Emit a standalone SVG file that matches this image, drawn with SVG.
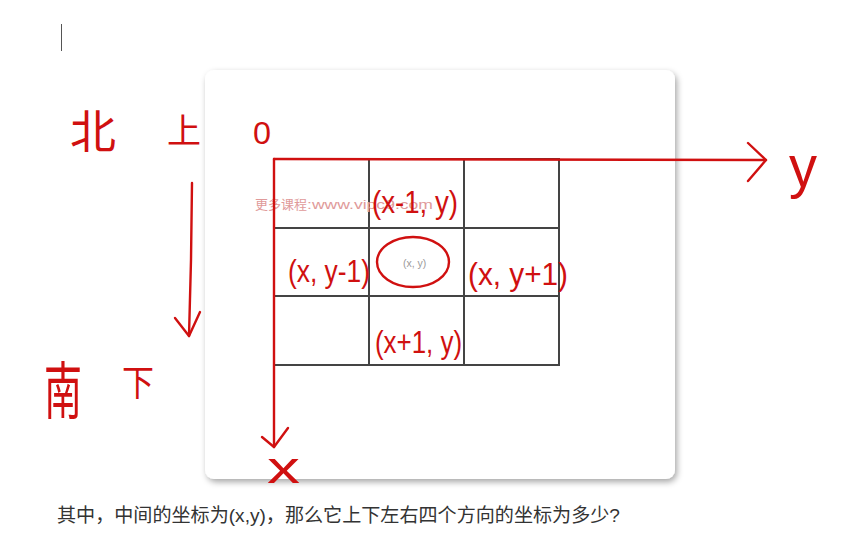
<svg xmlns="http://www.w3.org/2000/svg" width="861" height="536" viewBox="0 0 861 536">
  <style>
    .grid { fill: none; stroke: #444; stroke-width: 2; }
    .red { fill: none; stroke: #d01010; stroke-width: 2.4; stroke-linecap: round; stroke-linejoin: round; }
    .hand { fill: #d01010; font-family: "Liberation Sans", "DejaVu Sans", sans-serif; font-weight: normal; }
    .handcjk { fill: #d01010; font-family: "Noto Sans CJK SC", sans-serif; font-weight: normal; }
    .wm { fill: #e09a9a; font-family: "Liberation Sans", "Noto Sans CJK SC", sans-serif; font-size: 13px; }
    .small { fill: #9a9a9a; font-family: "Liberation Sans", sans-serif; font-size: 10.5px; }
    .body { fill: #333; font-family: "Liberation Sans", "Noto Sans CJK SC", sans-serif; font-size: 19px; }
  </style>
  <defs>
    <filter id="shadow" x="-5%" y="-5%" width="112%" height="112%">
      <feDropShadow dx="2" dy="3" stdDeviation="3" flood-color="#000" flood-opacity="0.35"/>
    </filter>
  </defs>
  <rect x="0" y="0" width="861" height="536" fill="#fff"/>
  <line x1="61.5" y1="24" x2="61.5" y2="51" stroke="#555" stroke-width="1"/>

  <g id="card">
    <rect x="205" y="70" width="470" height="409" rx="9" fill="#fff" filter="url(#shadow)"/>
  </g>

  <g id="grid">
    <rect class="grid" x="274" y="159" width="285" height="206"/>
    <line class="grid" x1="369" y1="159" x2="369" y2="365"/>
    <line class="grid" x1="464" y1="159" x2="464" y2="365"/>
    <line class="grid" x1="274" y1="228" x2="559" y2="228"/>
    <line class="grid" x1="274" y1="296" x2="559" y2="296"/>
  </g>

  <g id="watermark">
    <text class="wm" x="255" y="209">更多课程<tspan textLength="126" lengthAdjust="spacingAndGlyphs">:www.vipc9.com</tspan></text>
  </g>

  <g id="center-label">
    <text class="small" x="403" y="267">(x, y)</text>
  </g>

  <g id="connectors">
    <path class="red" d="M274 159 L766 160"/>
    <polyline class="red" points="748,143 766,160 748,181"/>
    <path class="red" d="M274 159 L274 447"/>
    <polyline class="red" points="262,437 274,447 288,428"/>
    <path class="red" d="M192 183 L191 260 L189 336"/>
    <polyline class="red" points="175,318 189,336 200,312"/>
    <ellipse class="red" cx="413" cy="262" rx="36" ry="25"/>
  </g>

  <g id="labels">
    <text class="handcjk" x="70" y="148" font-size="46">北</text>
    <text class="handcjk" x="167" y="143" font-size="34">上</text>
    <text class="handcjk" x="44" y="414" font-size="62" textLength="38" lengthAdjust="spacingAndGlyphs">南</text>
    <text class="handcjk" x="122" y="396" font-size="36" textLength="32" lengthAdjust="spacingAndGlyphs">下</text>
    <text class="hand" x="253" y="144" font-size="31" textLength="18" lengthAdjust="spacingAndGlyphs">0</text>
    <text class="hand" x="789" y="187" font-size="60" textLength="28" lengthAdjust="spacingAndGlyphs">y</text>
    <text class="hand" x="267" y="483" font-size="44" textLength="33" lengthAdjust="spacingAndGlyphs">x</text>
    <text class="hand" x="372" y="213" font-size="31" textLength="86" lengthAdjust="spacingAndGlyphs">(x-1, y)</text>
    <text class="hand" x="288" y="282" font-size="31" textLength="82" lengthAdjust="spacingAndGlyphs">(x, y-1)</text>
    <text class="hand" x="468" y="285" font-size="31" textLength="100" lengthAdjust="spacingAndGlyphs">(x, y+1)</text>
    <text class="hand" x="375" y="353" font-size="31" textLength="87" lengthAdjust="spacingAndGlyphs">(x+1, y)</text>
  </g>

  <g id="caption">
    <text class="body" x="57" y="522" textLength="563" lengthAdjust="spacingAndGlyphs">其中，中间的坐标为(x,y)，那么它上下左右四个方向的坐标为多少?</text>
  </g>
</svg>
